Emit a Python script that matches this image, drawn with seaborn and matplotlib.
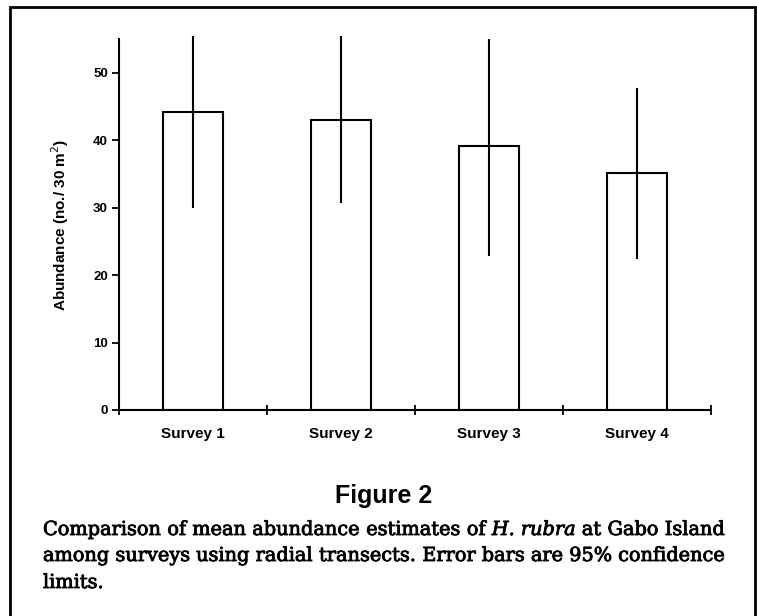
import numpy as np
import matplotlib
matplotlib.use("Agg")
import matplotlib.pyplot as plt
import matplotlib.patheffects as pe
import seaborn as sns
from matplotlib.patches import Rectangle
from matplotlib.ticker import FixedLocator

surveys = ["Survey 1", "Survey 2", "Survey 3", "Survey 4"]
means = [44.2, 43.0, 39.2, 35.2]
ci_low = [30.0, 30.7, 22.8, 22.4]
ci_high = [55.4, 55.4, 55.0, 47.8]
yticks = [0, 10, 20, 30, 40, 50]

sns.set_theme(style="ticks")
plt.rcParams["font.family"] = ["Liberation Sans", "DejaVu Sans"]
for k in ["text.color", "axes.labelcolor", "xtick.color", "ytick.color", "axes.edgecolor"]:
    plt.rcParams[k] = "black"

W, H = 757, 616
fig = plt.figure(figsize=(W/100, H/100), dpi=100)
ax = fig.add_axes([119/W, 1-410/H, (711-119)/W, (410-39)/H])

sns.barplot(x=surveys, y=means, color="white", edgecolor="black",
            linewidth=1.5, width=0.405, ax=ax, saturation=1, errorbar=None)

pos = np.arange(len(surveys))
ax.vlines(pos, ci_low, ci_high, colors="black", linewidth=1.5, clip_on=False, zorder=5)

ax.set_ylim(0, 55)
ax.set_xlim(-0.5, len(surveys) - 0.5)
ax.set_yticks(yticks)
ax.set_yticklabels([str(t) for t in yticks], fontsize=9.5, fontweight="bold",
                   family=["Liberation Sans"])
ax.xaxis.set_major_locator(FixedLocator(np.arange(-0.5, len(surveys), 1.0)))
ax.set_xticklabels([])
ax.xaxis.set_minor_locator(FixedLocator(pos))
ax.set_xticklabels(surveys, minor=True, fontsize=11, fontweight="bold",
                   family=["Liberation Sans"])
ax.tick_params(axis="x", which="minor", length=0, pad=12)
ax.tick_params(axis="x", which="major", direction="inout", length=7, width=1.3)
ax.tick_params(axis="y", direction="out", length=5, width=1.3, pad=3)
ax.set_xlabel("")
ax.set_ylabel("Abundance (no./ 30 m$^2$)", fontsize=11, fontweight="bold", labelpad=16,
              family=["Liberation Sans"])
for s in ["top", "right"]:
    ax.spines[s].set_visible(False)
for s in ["left", "bottom"]:
    ax.spines[s].set_linewidth(1.5)
    ax.spines[s].set_color("black")

fig.text(384/W, 1-503/H, "Figure 2", ha="center", va="baseline",
         fontsize=18, fontweight="bold", family=["Liberation Sans"], color="black")

caption_lines = [
    [("Comparison", "normal"), ("of", "normal"), ("mean", "normal"), ("abundance", "normal"),
     ("estimates", "normal"), ("of", "normal"), ("H.", "italic"), ("rubra", "italic"),
     ("at", "normal"), ("Gabo", "normal"), ("Island", "normal")],
    [("among", "normal"), ("surveys", "normal"), ("using", "normal"), ("radial", "normal"),
     ("transects.", "normal"), ("Error", "normal"), ("bars", "normal"), ("are", "normal"),
     ("95%", "normal"), ("confidence", "normal")],
    [("limits.", "normal")],
]
baselines = [535, 561, 588]
justify = [True, True, False]
x_left, x_right = 43, 725
cap_size = 13.9
renderer = fig.canvas.get_renderer()
thick = [pe.withStroke(linewidth=0.6, foreground="black")]
for words, yb, just in zip(caption_lines, baselines, justify):
    texts = []
    for w, st in words:
        t = fig.text(0, 1-yb/H, w, ha="left", va="baseline", fontsize=cap_size,
                     family=["DejaVu Serif"], style=st, color="black",
                     path_effects=thick)
        texts.append(t)
    widths = [t.get_window_extent(renderer).width for t in texts]
    if just and len(texts) > 1:
        gap = (x_right - x_left - sum(widths)) / (len(texts) - 1)
    else:
        gap = cap_size * 0.32
    x = x_left
    for t, wd in zip(texts, widths):
        t.set_x(x / W)
        x += wd + gap

fig.patches.append(Rectangle((10/W, -0.02), (755-10)/W, 1.02 - 7/H,
                             transform=fig.transFigure, fill=False,
                             edgecolor="black", linewidth=2))

fig.savefig("out.png", dpi=100)
